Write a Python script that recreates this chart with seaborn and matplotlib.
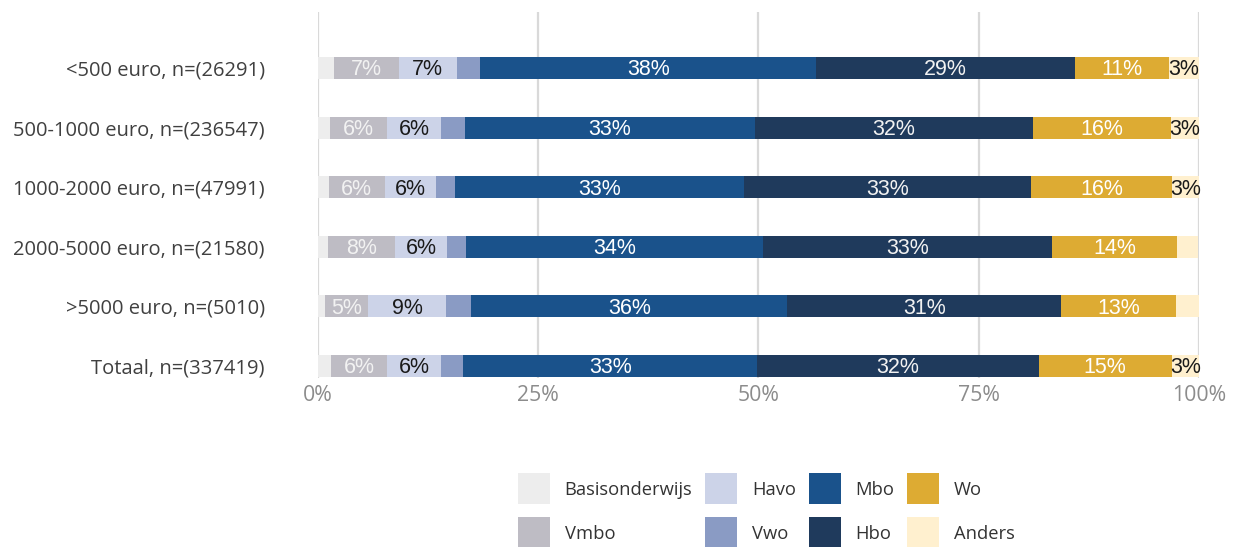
import numpy as np
import pandas as pd
import matplotlib
matplotlib.use("Agg")
import matplotlib.pyplot as plt
import seaborn as sns

categories = ["<500 euro, n=(26291)", "500-1000 euro, n=(236547)", "1000-2000 euro, n=(47991)",
              "2000-5000 euro, n=(21580)", ">5000 euro, n=(5010)", "Totaal, n=(337419)"]
series = ["Basisonderwijs", "Vmbo", "Havo", "Vwo", "Mbo", "Hbo", "Wo", "Anders"]
basisonderwijs = [1.8, 1.4, 1.3, 1.2, 0.8, 1.5]
vmbo = [7.4, 6.5, 6.3, 7.6, 4.9, 6.4]
havo = [6.6, 6.1, 5.8, 5.9, 8.9, 6.1]
vwo = [2.6, 2.7, 2.2, 2.1, 2.8, 2.5]
mbo = [38.2, 32.9, 32.8, 33.7, 35.9, 33.4]
hbo = [29.3, 31.6, 32.6, 32.8, 31.1, 31.9]
wo = [10.7, 15.6, 15.9, 14.2, 13.0, 15.1]
anders = [3.4, 3.2, 3.1, 2.4, 2.6, 3.1]

colors = ["#ededed", "#bebcc4", "#ccd3e8", "#8a9bc4", "#1a528b", "#1f3a5c", "#ddab33", "#fff0cf"]
label_colors = [None, "#f2f2f2", "#1a1a1a", None, "#ffffff", "#f2f2f2", "#ffffff", "#1a1a1a"]

df = pd.DataFrame(dict(zip(series, [basisonderwijs, vmbo, havo, vwo, mbo, hbo, wo, anders])),
                  index=categories)
cum = df.cumsum(axis=1)

sns.set_theme(style="white")
plt.rcParams["font.family"] = ["Open Sans", "DejaVu Sans"]

fig = plt.figure(figsize=(12.36, 5.47), dpi=100)
ax = fig.add_axes([0.257, 0.309, 0.713, 0.669])

# cumulatieve balken van groot naar klein tekenen zodat ze gestapeld lijken
for i in range(len(series) - 1, -1, -1):
    s = series[i]
    sns.barplot(x=cum[s].values, y=categories, orient="h", color=colors[i],
                saturation=1, width=0.37, ax=ax, label=s, linewidth=0, zorder=2)

handles, labels = ax.get_legend_handles_labels()
if ax.get_legend() is not None:
    ax.get_legend().remove()

ax.set_xlim(0, 100)
ax.set_ylim(5.2, -0.94)
ax.set_xticks([0, 25, 50, 75, 100])
ax.set_xticklabels(["0%", "25%", "50%", "75%", "100%"], color="#8c8c8c", fontsize=15.3)
ax.tick_params(axis="y", labelsize=14.5, labelcolor="#404040", length=0, pad=38)
ax.tick_params(axis="x", length=0, pad=5)
ax.xaxis.grid(True, color="#d9d9d9", linewidth=1.6, zorder=0)
ax.set_axisbelow(True)
for sp in ax.spines.values():
    sp.set_visible(False)
ax.set_xlabel("")
ax.set_ylabel("")

for j, cat in enumerate(categories):
    for i, s in enumerate(series):
        v = df.loc[cat, s]
        if label_colors[i] is None or v < 3:
            continue
        mid = cum.loc[cat, s] - v / 2
        ax.text(mid, j + 0.03, f"{round(v):.0f}%", ha="center", va="center", fontsize=15.5,
                color=label_colors[i], family=["Liberation Sans", "DejaVu Sans"], zorder=5)

order = [labels.index(s) for s in series]
fig.legend([handles[k] for k in order], [labels[k] for k in order],
           loc="center", bbox_to_anchor=(0.62, 0.066), ncol=4, frameon=False,
           fontsize=13.2, handlelength=1.75, handleheight=2.25, handletextpad=0.8,
           columnspacing=0.7, labelspacing=0.7, labelcolor="#333333")

fig.savefig("out.png", dpi=100)
